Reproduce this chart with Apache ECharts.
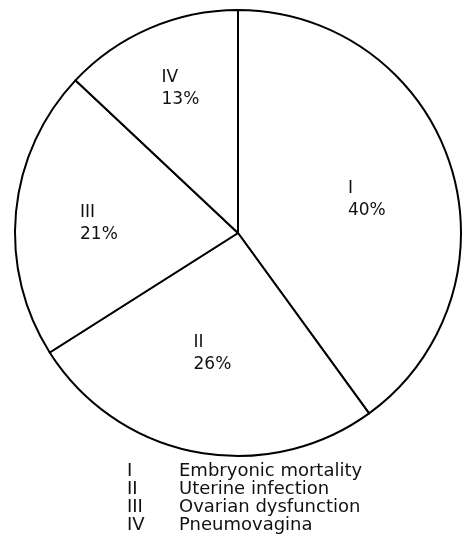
<!DOCTYPE html>
<html>
<head>
<meta charset="utf-8">
<style>
  html, body { margin: 0; padding: 0; background: #fff; }
  #chart { width: 462px; height: 556px; }
</style>
<script src="https://cdn.jsdelivr.net/npm/echarts@6/dist/echarts.min.js"></script>
</head>
<body>
<div id="chart"></div>
<script>
// Causes of reproductive failure, share of cases
const categories = ['Embryonic mortality', 'Uterine infection', 'Ovarian dysfunction', 'Pneumovagina'];
const numerals = ['I', 'II', 'III', 'IV'];
const shares = [40, 26, 21, 13];

// nudges for the in-slice labels (pixels), kept apart from the values
const labelNudge = [[21, 2], [-3, 8], [-24, 1], [-11, -39]];

const FONT = '"DejaVu Sans", sans-serif';

const chart = echarts.init(document.getElementById('chart'), null, { renderer: 'canvas' });

chart.setOption({
  animation: false,
  backgroundColor: '#ffffff',
  legend: {
    orient: 'vertical',
    left: 122,
    top: 462,
    padding: 0,
    itemGap: 0,
    itemWidth: 0,
    itemHeight: 0,
    icon: 'none',
    selectedMode: false,
    data: categories,
    formatter: function (name) {
      const i = categories.indexOf(name);
      return '{n|' + numerals[i] + '}{t|' + name + '}';
    },
    textStyle: {
      color: '#111',
      fontFamily: FONT,
      fontSize: 18,
      lineHeight: 17,
      padding: 0,
      rich: {
        n: { width: 52, fontFamily: FONT, fontSize: 18, color: '#111', lineHeight: 17 },
        t: { fontFamily: FONT, fontSize: 18, color: '#111', lineHeight: 17 }
      }
    }
  },
  series: [{
    type: 'pie',
    center: [238, 233],
    radius: 223,
    startAngle: 90,
    clockwise: true,
    avoidLabelOverlap: false,
    emphasis: { disabled: true },
    itemStyle: {
      color: '#ffffff',
      borderColor: '#000000',
      borderWidth: 2
    },
    label: {
      show: true,
      position: 'inside',
      formatter: function (p) {
        return '{v|' + numerals[p.dataIndex] + '}\n{v|' + shares[p.dataIndex] + '%}';
      },
      rich: {
        v: { width: 40, align: 'left', fontFamily: FONT, fontSize: 17, lineHeight: 22, color: '#111' }
      }
    },
    labelLine: { show: false },
    data: categories.map(function (name, i) {
      return {
        name: name,
        value: shares[i],
        label: { offset: labelNudge[i] }
      };
    })
  }]
});
</script>
</body>
</html>
